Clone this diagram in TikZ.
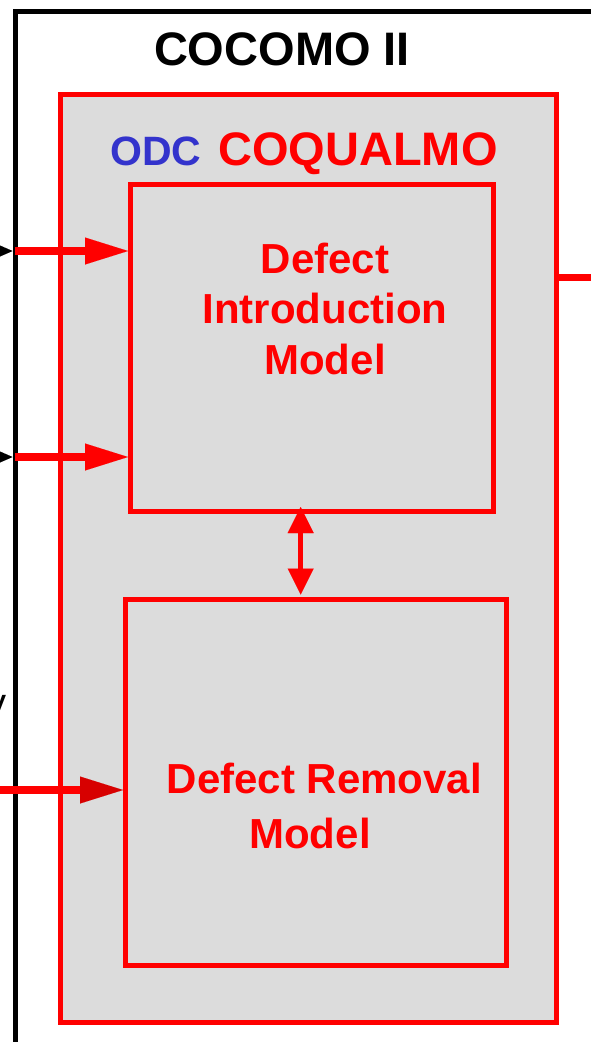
\documentclass[tikz,border=0pt]{standalone}
\usepackage{fontspec}
\setmainfont{Liberation Sans}
\usetikzlibrary{arrows.meta}
\definecolor{boxgray}{RGB}{220,220,220}
\definecolor{odcblue}{RGB}{51,51,204}
\definecolor{cred}{RGB}{255,0,0}
\definecolor{dred}{RGB}{215,0,0}
\begin{document}
\begin{tikzpicture}[x=1pt,y=-1pt,
  redbox/.style={draw=cred, line width=5pt, fill=boxgray, inner sep=0pt},
  redtxt/.style={text=cred, font=\bfseries\fontsize{42}{50.7}\selectfont, inner sep=0pt, align=center},
  inarrow/.style={draw=cred, line width=8pt, -{Triangle[length=43pt,width=27pt,line width=0.01pt]}},
  blackin/.style={draw=black, line width=2pt, -{Triangle[length=16pt,width=14pt,line width=0.01pt]}},
  dblarrow/.style={draw=cred, line width=5pt, {Triangle[length=26pt,width=26pt,line width=0.01pt]}-{Triangle[length=26pt,width=26pt,line width=0.01pt]}}
]
\useasboundingbox (0,0) rectangle (591,1042);
\fill[white] (0,0) rectangle (591,1042);
% outer COCOMO II frame (continues beyond the picture)
\node[draw=black, line width=5pt, inner sep=0pt, minimum width=700pt, minimum height=1100pt,
      anchor=north west] (cocomo) at (12.5,9) {};
\node[anchor=base, inner sep=0pt, font=\bfseries\fontsize{47}{56}\selectfont] (cocomotitle) at (282,65) {COCOMO II};
% partial label at the left edge
\node[anchor=base east, inner sep=0pt, font=\fontsize{40}{48}\selectfont] (ylabel) at (6.5,716) {y};
% COQUALMO box
\node[redbox, minimum width=496pt, minimum height=928pt] (coq) at (308.5,558) {};
\node[anchor=base west, inner sep=0pt, text=odcblue, font=\bfseries\fontsize{41}{49}\selectfont] (odc) at (110,165) {ODC};
\node[anchor=base west, inner sep=0pt, text=cred, font=\bfseries\fontsize{47}{56}\selectfont] (coqtitle) at (218,165) {COQUALMO};
% inner boxes
\node[redbox, minimum width=362.5pt, minimum height=327pt] (dim) at (311.75,348) {};
\node[redbox, minimum width=381pt, minimum height=366pt] (drm) at (316,782.5) {};
\node[redtxt, anchor=north] (dimtxt) at (325,242.5) {Defect\\Introduction\\Model};
\node[redtxt, anchor=north, font=\bfseries\fontsize{42}{55}\selectfont] (drmtxt) at (324.5,762.5) {Defect Removal\\Model\hspace*{29pt}};
% input arrows
\coordinate (in1) at (15,251);
\coordinate (in2) at (15,457);
\coordinate (in3) at (-10,790);
\coordinate (bl1) at (-25,251);
\coordinate (bl2) at (-25,457);
\draw[blackin] (bl1) -- (cocomo.west |- bl1);
\draw[blackin] (bl2) -- (cocomo.west |- bl2);
\draw[inarrow] (in1) -- (dim.west |- in1);
\draw[inarrow] (in2) -- (dim.west |- in2);
\draw[inarrow, -{Triangle[length=43pt,width=27pt,line width=0.01pt,color=dred]}] (in3) -- (drm.west |- in3);
% output line
\coordinate (out) at (600,277);
\draw[cred, line width=7pt] (coq.east |- out) -- (out);
% double arrow
\draw[dblarrow, shorten <=-7pt, shorten >=2.5pt] (dim.south -| 300.7,0) -- (drm.north -| 300.7,0);
\end{tikzpicture}
\end{document}
